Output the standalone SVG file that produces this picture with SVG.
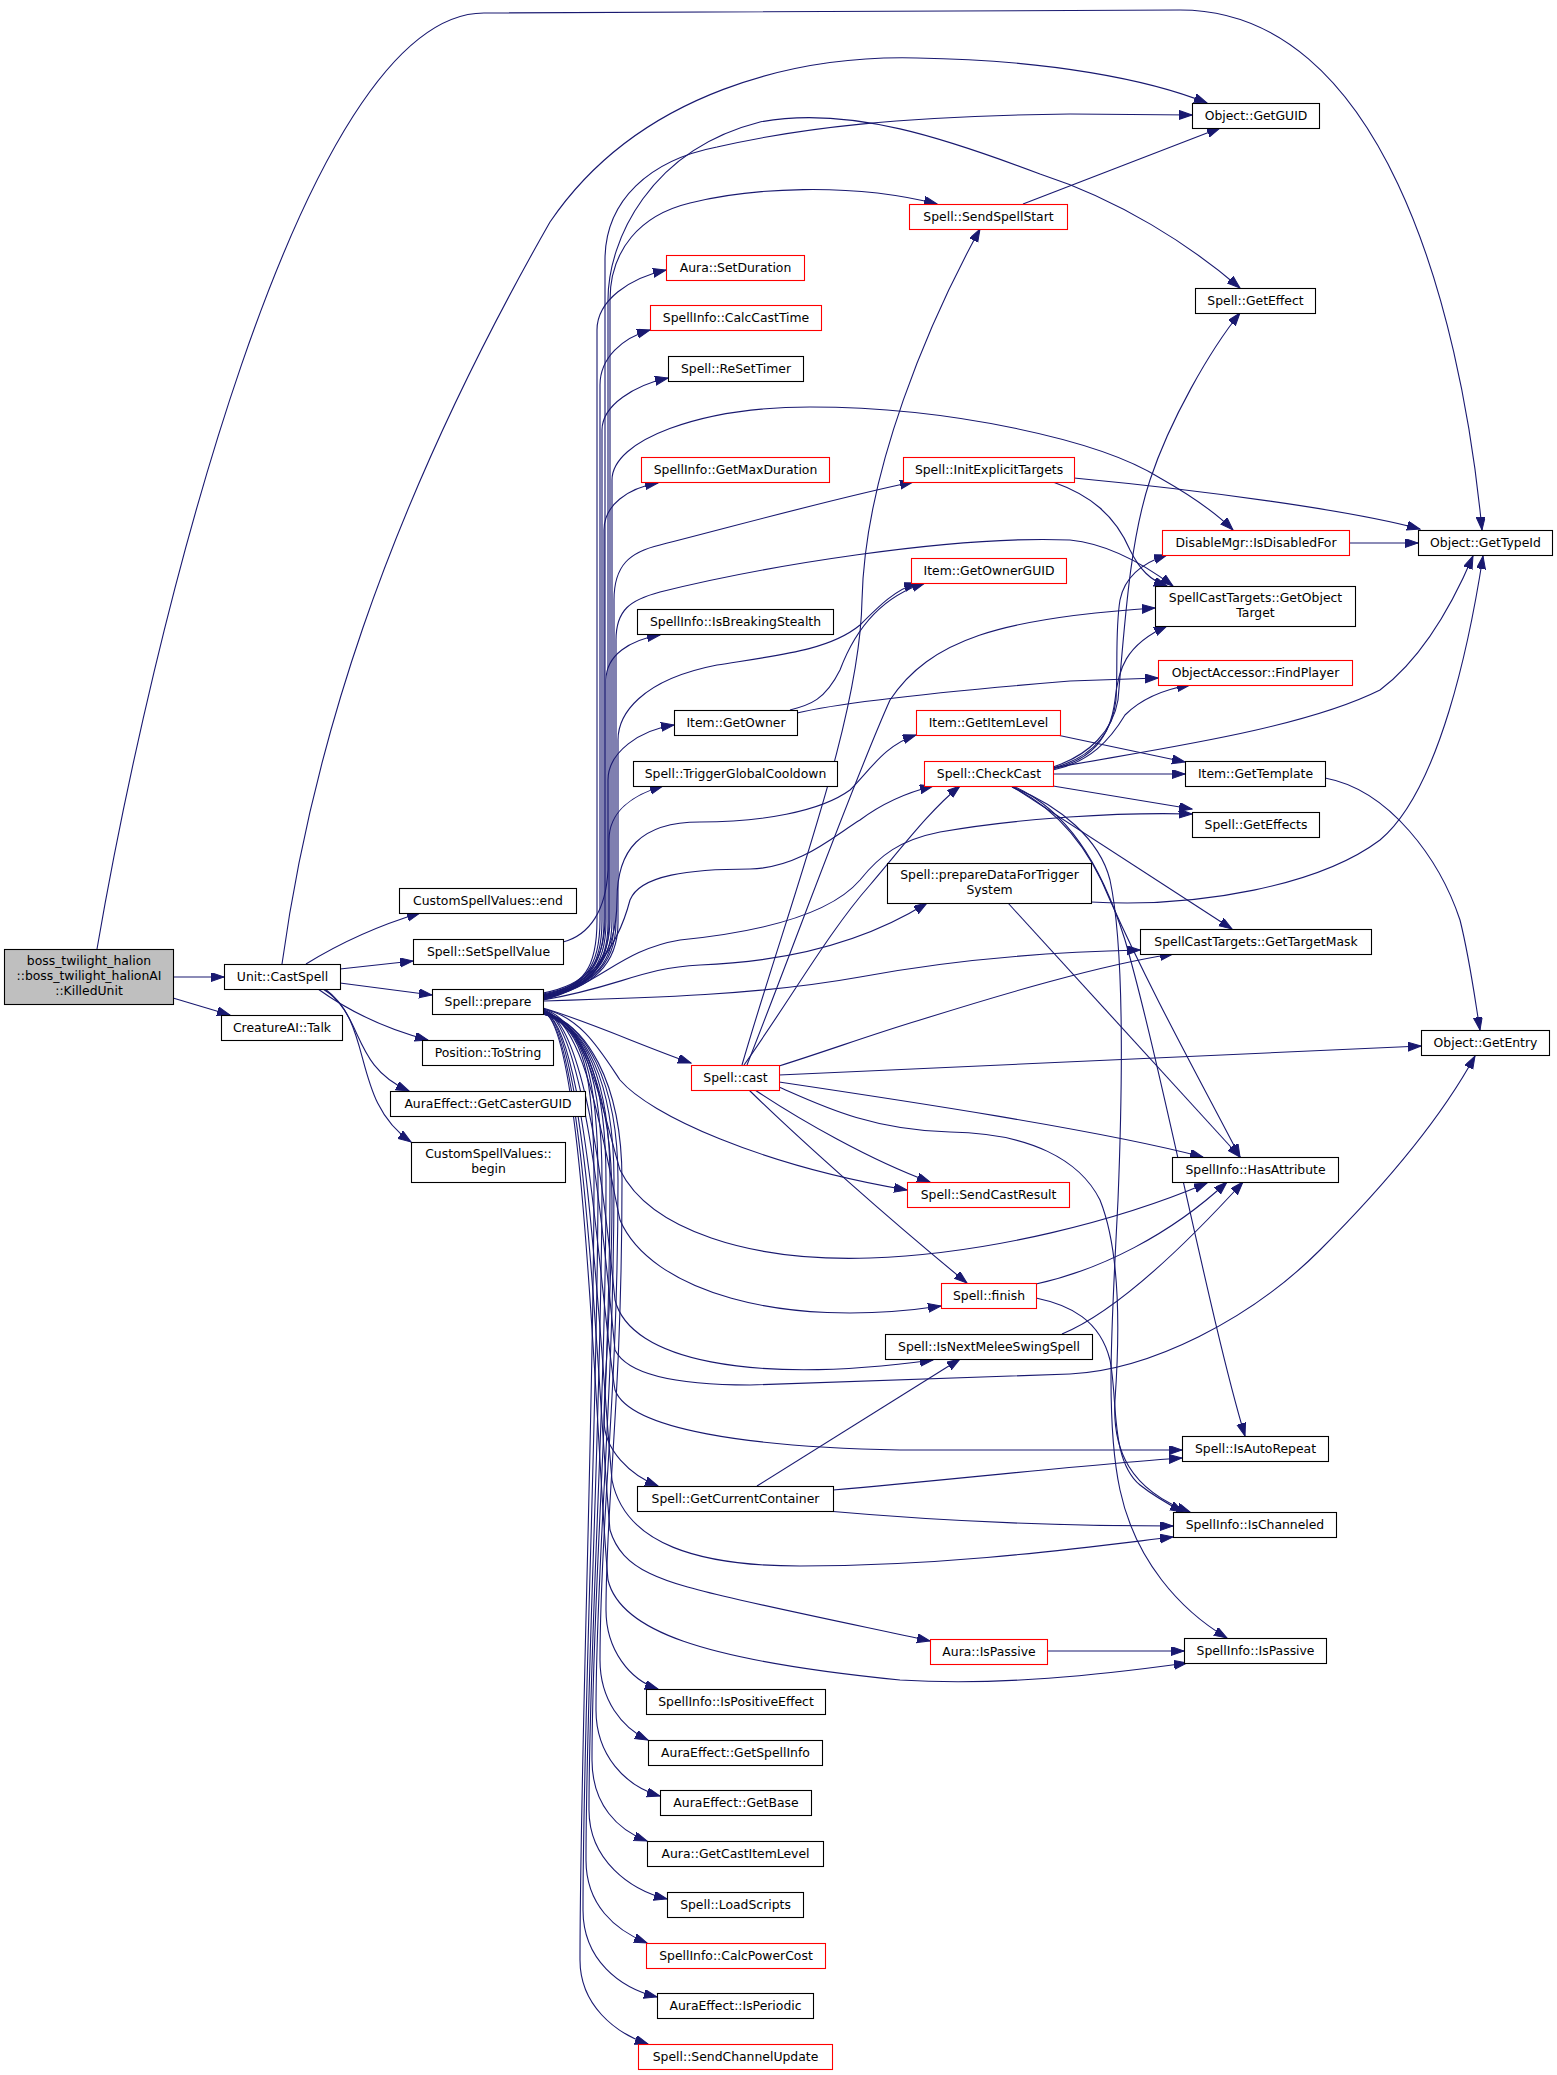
<svg xmlns="http://www.w3.org/2000/svg" width="1557" height="2075" viewBox="0 0 1557 2075">
<defs>
<marker id="ah" markerUnits="userSpaceOnUse" markerWidth="14" markerHeight="10" refX="13" refY="4.5" orient="auto">
<path d="M0,0 L13,4.5 L0,9 z" fill="#191970" stroke="#191970" stroke-width="1"/>
</marker>
<style>
.e{fill:none;stroke:#191970;stroke-width:1.1;marker-end:url(#ah)}
.n rect{fill:#fff;stroke:#000;stroke-width:1.1}
.r rect{fill:#fff;stroke:#ff0000;stroke-width:1.1}
.root rect{fill:#bfbfbf;stroke:#000;stroke-width:1.1}
text{font-family:"DejaVu Sans","Liberation Sans",sans-serif;font-size:12.4px;text-anchor:middle;fill:#000}
</style>
</defs>
<rect width="1557" height="2075" fill="#fff"/>
<g id="edges">
<path class="e" d="M173,977 L224,977"/>
<path class="e" d="M173,998 L230,1015"/>
<path class="e" d="M97,949 C150,640 300,13 484,13 L1180,10 C1380,10 1460,300 1482,530"/>
<path class="e" d="M282,964 C310,760 380,520 550,222 C640,90 800,55 917,58 C1050,60 1150,80 1207,103"/>
<path class="e" d="M306,964 C340,943 380,925 420,913"/>
<path class="e" d="M340,969 L413,961"/>
<path class="e" d="M340,983 L432,995"/>
<path class="e" d="M318,989 C350,1012 390,1030 428,1040"/>
<path class="e" d="M323,989 C365,1015 350,1065 409,1091"/>
<path class="e" d="M325,989 C375,1025 350,1100 411,1142"/>
<path class="e" d="M563,942 C590,935 606,910 608,870 L608,300 C608,240 650,150 760,122 C850,105 950,140 1040,174 C1120,200 1190,245 1240,288"/>
<path class="e" d="M543,993 C585,985 605,965 605,918 L605,260 C605,200 650,160 717,147 C800,128 900,116 1070,114 L1192,115"/>
<path class="e" d="M543,994 C585,986 610,966 610,919 L610,300 C610,250 640,215 690,203 C750,188 850,182 937,204"/>
<path class="e" d="M543,995 C585,987 597,967 597,920 L597,330 C597,300 630,278 666,270"/>
<path class="e" d="M543,995 C585,987 600,967 600,920 L600,385 C600,358 622,338 650,330"/>
<path class="e" d="M543,996 C585,988 602,968 602,921 L602,430 C602,405 635,385 668,378"/>
<path class="e" d="M543,996 C585,988 612,968 612,921 L612,480 C612,440 700,407 810,407 C950,407 1100,440 1160,478 C1190,495 1215,512 1233,530"/>
<path class="e" d="M543,996 C585,988 604,968 604,921 L604,530 C604,505 628,488 658,483"/>
<path class="e" d="M543,997 C585,989 614,969 614,922 L614,600 C614,565 630,552 660,545 C750,522 840,497 913,482"/>
<path class="e" d="M543,997 C585,989 616,969 616,922 L616,640 C616,610 630,600 660,592 C760,567 950,535 1070,540 C1110,544 1145,565 1173,586"/>
<path class="e" d="M543,997 C585,989 606,969 606,922 L606,680 C606,655 630,640 660,635"/>
<path class="e" d="M543,998 C585,990 618,970 618,923 L618,740 C618,715 640,680 717,665 C780,655 830,650 860,625 C880,605 895,590 917,583"/>
<path class="e" d="M543,998 C585,990 608,970 608,923 L608,780 C608,752 640,730 674,725"/>
<path class="e" d="M543,998 C585,990 609,970 609,923 L609,840 C609,812 632,795 663,786"/>
<path class="e" d="M543,999 C585,991 617,960 617,900 C617,850 640,822 700,822 C760,822 820,812 850,790 C870,770 885,745 916,735"/>
<path class="e" d="M543,999 C585,991 617,950 630,900 C640,875 690,869 750,869 C800,868 835,835 860,820 C880,805 905,793 933,786"/>
<path class="e" d="M543,1000 C600,985 620,950 680,940 C760,932 830,915 860,880 C880,855 900,840 940,832 C1020,818 1120,812 1192,814"/>
<path class="e" d="M543,1000 C620,987 640,968 700,965 C780,962 860,945 927,903"/>
<path class="e" d="M543,1001 C650,998 760,995 860,977 C950,960 1050,952 1140,950"/>
<path class="e" d="M543,1008 C590,1022 640,1045 691,1063"/>
<path class="e" d="M543,1009 C580,1016 600,1050 620,1080 C650,1115 760,1165 907,1190"/>
<path class="e" d="M543,1009 C585,1020 600,1100 620,1170 C650,1230 750,1262 870,1258 C990,1254 1120,1220 1207,1183"/>
<path class="e" d="M543,1010 C585,1021 603,1140 620,1220 C650,1290 780,1330 941,1306"/>
<path class="e" d="M543,1010 C585,1021 605,1200 615,1300 C630,1360 750,1385 933,1360"/>
<path class="e" d="M543,1010 C585,1021 605,1250 615,1350 C630,1380 700,1385 750,1385 L1070,1374 C1150,1370 1250,1320 1320,1250 C1380,1190 1440,1120 1475,1056"/>
<path class="e" d="M543,1011 C585,1022 600,1300 615,1390 C630,1430 750,1447 900,1450 L1182,1450"/>
<path class="e" d="M543,1011 C585,1022 612,1100 612,1200 C612,1300 604,1380 604,1420 C604,1450 630,1475 658,1486"/>
<path class="e" d="M543,1011 C585,1022 600,1350 612,1480 C625,1545 700,1566 800,1566 C950,1566 1080,1548 1173,1537"/>
<path class="e" d="M543,1012 C585,1023 598,1400 610,1530 C622,1570 660,1582 740,1600 C820,1618 880,1630 930,1641"/>
<path class="e" d="M543,1012 C585,1023 596,1450 608,1580 C620,1630 700,1660 900,1680 C1000,1686 1100,1675 1187,1663"/>
<path class="e" d="M543,1012 C585,1023 622,1080 622,1180 C622,1400 606,1500 606,1610 C606,1650 630,1680 658,1689"/>
<path class="e" d="M543,1012 C585,1023 618,1080 618,1180 C618,1400 600,1520 600,1660 C600,1700 622,1728 648,1740"/>
<path class="e" d="M543,1013 C585,1024 614,1080 614,1180 C614,1400 596,1560 596,1710 C596,1755 625,1786 660,1796"/>
<path class="e" d="M543,1013 C585,1024 610,1080 610,1180 C610,1400 592,1600 592,1760 C592,1805 618,1830 647,1841"/>
<path class="e" d="M543,1013 C585,1024 606,1080 606,1180 C606,1400 589,1640 589,1810 C589,1860 630,1890 667,1899"/>
<path class="e" d="M543,1014 C585,1025 602,1080 602,1180 C602,1400 586,1680 586,1860 C586,1905 615,1930 647,1943"/>
<path class="e" d="M543,1014 C585,1025 598,1080 598,1180 C598,1400 583,1720 583,1910 C583,1960 620,1988 657,1997"/>
<path class="e" d="M543,1014 C585,1025 594,1080 594,1180 C594,1400 580,1760 580,1960 C580,2005 615,2033 648,2044"/>
<path class="e" d="M1053,767 C1090,755 1113,730 1118,700 C1125,620 1130,540 1150,480 C1170,420 1210,350 1240,313"/>
<path class="e" d="M1053,768 C1090,758 1112,735 1116,700 C1118,670 1115,630 1120,600 C1125,575 1145,562 1167,555"/>
<path class="e" d="M1053,769 C1090,760 1110,740 1115,700 C1118,670 1125,645 1167,626"/>
<path class="e" d="M1053,770 C1090,762 1110,740 1125,715 C1140,700 1160,690 1190,685"/>
<path class="e" d="M1053,768 C1150,750 1300,730 1380,690 C1420,660 1450,610 1473,556"/>
<path class="e" d="M1053,774 L1185,774"/>
<path class="e" d="M1053,786 L1192,809"/>
<path class="e" d="M1013,787 L1232,929"/>
<path class="e" d="M1012,787 C1060,810 1090,850 1110,900 C1150,990 1200,1080 1240,1157"/>
<path class="e" d="M1015,787 C1065,810 1100,860 1125,940 C1160,1060 1210,1320 1245,1436"/>
<path class="e" d="M1012,787 C1060,805 1100,840 1110,880 C1125,950 1122,1100 1118,1200 C1112,1320 1105,1420 1120,1490 C1135,1560 1180,1610 1227,1638"/>
<path class="e" d="M742,1065 C790,900 860,720 862,600 C865,470 930,320 980,229"/>
<path class="e" d="M744,1065 C790,1000 830,930 870,885 C900,850 930,810 960,786"/>
<path class="e" d="M747,1065 C800,930 850,790 890,700 C930,640 1000,618 1155,608"/>
<path class="e" d="M779,1066 C830,1050 870,1035 920,1020 C1000,995 1100,965 1173,954"/>
<path class="e" d="M779,1075 L1421,1046"/>
<path class="e" d="M779,1082 C900,1100 1100,1130 1203,1157"/>
<path class="e" d="M755,1090 C800,1120 870,1160 930,1182"/>
<path class="e" d="M749,1090 C800,1140 890,1220 967,1283"/>
<path class="e" d="M779,1087 C820,1105 870,1130 950,1132 C1030,1133 1080,1160 1100,1200 C1120,1250 1120,1330 1115,1400 C1112,1450 1130,1490 1190,1512"/>
<path class="e" d="M1036,1298 C1070,1305 1100,1320 1110,1360 C1118,1400 1110,1460 1140,1485 C1155,1497 1170,1505 1183,1512"/>
<path class="e" d="M1036,1284 C1100,1270 1170,1235 1227,1182"/>
<path class="e" d="M1062,1334 C1120,1310 1190,1240 1243,1182"/>
<path class="e" d="M757,1486 L960,1359"/>
<path class="e" d="M833,1490 C950,1480 1080,1465 1182,1458"/>
<path class="e" d="M827,1511 C950,1522 1080,1526 1173,1526"/>
<path class="e" d="M1047,1651 L1184,1651"/>
<path class="e" d="M790,710 C810,705 825,700 840,670 C855,630 880,597 925,583"/>
<path class="e" d="M797,713 C830,705 900,695 1070,681 L1158,678"/>
<path class="e" d="M1057,735 L1185,762"/>
<path class="e" d="M1325,778 C1390,790 1440,860 1460,920 C1470,960 1475,1000 1480,1030"/>
<path class="e" d="M1074,478 C1200,490 1350,510 1420,529"/>
<path class="e" d="M1053,482 C1090,495 1115,515 1130,550 C1140,570 1150,580 1167,586"/>
<path class="e" d="M1349,543 L1418,543"/>
<path class="e" d="M1023,204 L1220,128"/>
<path class="e" d="M1008,903 L1240,1157"/>
<path class="e" d="M1091,902 C1200,908 1320,885 1380,840 C1440,790 1470,640 1483,556"/>
</g>
<g id="n_killedunit" class="root"><rect x="4.5" y="949.5" width="169" height="55"/><text x="89" y="965">boss_twilight_halion</text><text x="89" y="980">::boss_twilight_halionAI</text><text x="89" y="995">::KilledUnit</text></g>
<g id="n_castspell" class="n"><rect x="224.5" y="964.5" width="116" height="25"/><text x="282.5" y="981">Unit::CastSpell</text></g>
<g id="n_talk" class="n"><rect x="221.5" y="1015.5" width="121" height="25"/><text x="282" y="1032">CreatureAI::Talk</text></g>
<g id="n_csv_end" class="n"><rect x="399.5" y="888.5" width="177" height="25"/><text x="488" y="905">CustomSpellValues::end</text></g>
<g id="n_setspellvalue" class="n"><rect x="413.5" y="939.5" width="150" height="25"/><text x="488.5" y="956">Spell::SetSpellValue</text></g>
<g id="n_prepare" class="n"><rect x="432.5" y="989.5" width="111" height="25"/><text x="488" y="1006">Spell::prepare</text></g>
<g id="n_tostring" class="n"><rect x="422.5" y="1040.5" width="131" height="25"/><text x="488" y="1057">Position::ToString</text></g>
<g id="n_getcasterguid" class="n"><rect x="390.5" y="1091.5" width="195" height="25"/><text x="488" y="1108">AuraEffect::GetCasterGUID</text></g>
<g id="n_csv_begin" class="n"><rect x="411.5" y="1142.5" width="154" height="40"/><text x="488.5" y="1158">CustomSpellValues::</text><text x="488.5" y="1173">begin</text></g>
<g id="n_getguid" class="n"><rect x="1192.5" y="103.5" width="127" height="25"/><text x="1256" y="120">Object::GetGUID</text></g>
<g id="n_sendspellstart" class="r"><rect x="909.5" y="204.5" width="158" height="25"/><text x="988.5" y="221">Spell::SendSpellStart</text></g>
<g id="n_setduration" class="r"><rect x="666.5" y="255.5" width="138" height="25"/><text x="735.5" y="272">Aura::SetDuration</text></g>
<g id="n_calccasttime" class="r"><rect x="650.5" y="305.5" width="171" height="25"/><text x="736" y="322">SpellInfo::CalcCastTime</text></g>
<g id="n_resettimer" class="n"><rect x="668.5" y="356.5" width="135" height="25"/><text x="736" y="373">Spell::ReSetTimer</text></g>
<g id="n_geteffect" class="n"><rect x="1195.5" y="288.5" width="120" height="25"/><text x="1255.5" y="305">Spell::GetEffect</text></g>
<g id="n_getmaxduration" class="r"><rect x="641.5" y="457.5" width="188" height="25"/><text x="735.5" y="474">SpellInfo::GetMaxDuration</text></g>
<g id="n_initexplicittargets" class="r"><rect x="903.5" y="457.5" width="171" height="25"/><text x="989" y="474">Spell::InitExplicitTargets</text></g>
<g id="n_isdisabledfor" class="r"><rect x="1162.5" y="530.5" width="187" height="25"/><text x="1256" y="547">DisableMgr::IsDisabledFor</text></g>
<g id="n_gettypeid" class="n"><rect x="1418.5" y="530.5" width="134" height="25"/><text x="1485.5" y="547">Object::GetTypeId</text></g>
<g id="n_getownerguid" class="r"><rect x="911.5" y="558.5" width="155" height="25"/><text x="989" y="575">Item::GetOwnerGUID</text></g>
<g id="n_getobjecttarget" class="n"><rect x="1155.5" y="586.5" width="200" height="40"/><text x="1255.5" y="602">SpellCastTargets::GetObject</text><text x="1255.5" y="617">Target</text></g>
<g id="n_isbreakingstealth" class="n"><rect x="637.5" y="609.5" width="196" height="25"/><text x="735.5" y="626">SpellInfo::IsBreakingStealth</text></g>
<g id="n_findplayer" class="r"><rect x="1158.5" y="660.5" width="194" height="25"/><text x="1255.5" y="677">ObjectAccessor::FindPlayer</text></g>
<g id="n_getowner" class="n"><rect x="674.5" y="710.5" width="123" height="25"/><text x="736" y="727">Item::GetOwner</text></g>
<g id="n_getitemlevel" class="r"><rect x="916.5" y="710.5" width="144" height="25"/><text x="988.5" y="727">Item::GetItemLevel</text></g>
<g id="n_triggergcd" class="n"><rect x="633.5" y="761.5" width="204" height="25"/><text x="735.5" y="778">Spell::TriggerGlobalCooldown</text></g>
<g id="n_checkcast" class="r"><rect x="924.5" y="761.5" width="129" height="25"/><text x="989" y="778">Spell::CheckCast</text></g>
<g id="n_gettemplate" class="n"><rect x="1185.5" y="761.5" width="140" height="25"/><text x="1255.5" y="778">Item::GetTemplate</text></g>
<g id="n_geteffects" class="n"><rect x="1192.5" y="812.5" width="127" height="25"/><text x="1256" y="829">Spell::GetEffects</text></g>
<g id="n_preparedata" class="n"><rect x="887.5" y="863.5" width="204" height="40"/><text x="989.5" y="879">Spell::prepareDataForTrigger</text><text x="989.5" y="894">System</text></g>
<g id="n_gettargetmask" class="n"><rect x="1140.5" y="929.5" width="231" height="25"/><text x="1256" y="946">SpellCastTargets::GetTargetMask</text></g>
<g id="n_getentry" class="n"><rect x="1421.5" y="1030.5" width="128" height="25"/><text x="1485.5" y="1047">Object::GetEntry</text></g>
<g id="n_cast" class="r"><rect x="691.5" y="1065.5" width="88" height="25"/><text x="735.5" y="1082">Spell::cast</text></g>
<g id="n_hasattribute" class="n"><rect x="1172.5" y="1157.5" width="166" height="25"/><text x="1255.5" y="1174">SpellInfo::HasAttribute</text></g>
<g id="n_sendcastresult" class="r"><rect x="907.5" y="1182.5" width="162" height="25"/><text x="988.5" y="1199">Spell::SendCastResult</text></g>
<g id="n_finish" class="r"><rect x="941.5" y="1283.5" width="95" height="25"/><text x="989" y="1300">Spell::finish</text></g>
<g id="n_isnextmelee" class="n"><rect x="885.5" y="1334.5" width="207" height="25"/><text x="989" y="1351">Spell::IsNextMeleeSwingSpell</text></g>
<g id="n_isautorepeat" class="n"><rect x="1182.5" y="1436.5" width="146" height="25"/><text x="1255.5" y="1453">Spell::IsAutoRepeat</text></g>
<g id="n_getcurrentcontainer" class="n"><rect x="637.5" y="1486.5" width="196" height="25"/><text x="735.5" y="1503">Spell::GetCurrentContainer</text></g>
<g id="n_ischanneled" class="n"><rect x="1173.5" y="1512.5" width="163" height="25"/><text x="1255" y="1529">SpellInfo::IsChanneled</text></g>
<g id="n_aura_ispassive" class="r"><rect x="930.5" y="1639.5" width="117" height="25"/><text x="989" y="1656">Aura::IsPassive</text></g>
<g id="n_si_ispassive" class="n"><rect x="1184.5" y="1638.5" width="142" height="25"/><text x="1255.5" y="1655">SpellInfo::IsPassive</text></g>
<g id="n_ispositiveeffect" class="n"><rect x="646.5" y="1689.5" width="179" height="25"/><text x="736" y="1706">SpellInfo::IsPositiveEffect</text></g>
<g id="n_getspellinfo" class="n"><rect x="648.5" y="1740.5" width="174" height="25"/><text x="735.5" y="1757">AuraEffect::GetSpellInfo</text></g>
<g id="n_getbase" class="n"><rect x="660.5" y="1790.5" width="151" height="25"/><text x="736" y="1807">AuraEffect::GetBase</text></g>
<g id="n_getcastitemlevel" class="n"><rect x="647.5" y="1841.5" width="176" height="25"/><text x="735.5" y="1858">Aura::GetCastItemLevel</text></g>
<g id="n_loadscripts" class="n"><rect x="667.5" y="1892.5" width="136" height="25"/><text x="735.5" y="1909">Spell::LoadScripts</text></g>
<g id="n_calcpowercost" class="r"><rect x="646.5" y="1943.5" width="179" height="25"/><text x="736" y="1960">SpellInfo::CalcPowerCost</text></g>
<g id="n_isperiodic" class="n"><rect x="657.5" y="1993.5" width="156" height="25"/><text x="735.5" y="2010">AuraEffect::IsPeriodic</text></g>
<g id="n_sendchannelupdate" class="r"><rect x="638.5" y="2044.5" width="194" height="25"/><text x="735.5" y="2061">Spell::SendChannelUpdate</text></g>
</svg>
